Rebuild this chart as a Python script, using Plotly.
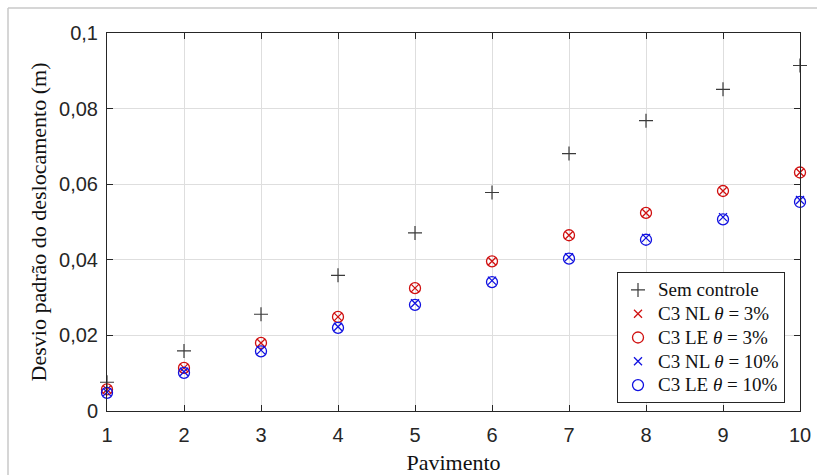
import plotly.graph_objects as go

pavimento = [1, 2, 3, 4, 5, 6, 7, 8, 9, 10]
sem_controle = [0.0076, 0.0159, 0.0256, 0.0359, 0.0471, 0.0578, 0.0681, 0.0768, 0.0851, 0.0914]
c3_nl_3 = [0.0057, 0.0114, 0.0180, 0.0249, 0.0325, 0.0396, 0.0465, 0.0524, 0.0582, 0.0631]
c3_le_3 = [0.0057, 0.0114, 0.0180, 0.0249, 0.0325, 0.0396, 0.0465, 0.0524, 0.0582, 0.0631]
c3_nl_10 = [0.0050, 0.0104, 0.0161, 0.0223, 0.0285, 0.0345, 0.0407, 0.0458, 0.0513, 0.0558]
c3_le_10 = [0.0048, 0.0101, 0.0158, 0.0220, 0.0281, 0.0341, 0.0403, 0.0453, 0.0507, 0.0553]

x_ticks = [1, 2, 3, 4, 5, 6, 7, 8, 9, 10]
y_ticks = [0, 0.02, 0.04, 0.06, 0.08, 0.1]
y_ticktext = ["0", "0,02", "0,04", "0,06", "0,08", "0,1"]

names = ["Sem controle", "C3 NL <i>θ</i> = 3%", "C3 LE <i>θ</i> = 3%",
         "C3 NL <i>θ</i> = 10%", "C3 LE <i>θ</i> = 10%"]

GRAY = "#3a3a3a"
RED = "#d01010"
BLUE = "#1010e0"


def big(t):
    return '<span style="font-size:19px">' + t + '</span>'


fig = go.Figure()
fig.add_trace(go.Scatter(x=pavimento, y=sem_controle, mode="markers", name=big(names[0]),
                         cliponaxis=False,
                         marker=dict(symbol="cross-thin", size=10, line=dict(color=GRAY, width=1.2))))
fig.add_trace(go.Scatter(x=pavimento, y=c3_nl_3, mode="markers", name=big(names[1]),
                         cliponaxis=False,
                         marker=dict(symbol="x-thin", size=8, line=dict(color=RED, width=1.3))))
fig.add_trace(go.Scatter(x=pavimento, y=c3_le_3, mode="markers", name=big(names[2]),
                         cliponaxis=False,
                         marker=dict(symbol="circle-open", size=11, color=RED, line=dict(color=RED, width=1.3))))
fig.add_trace(go.Scatter(x=pavimento, y=c3_nl_10, mode="markers", name=big(names[3]),
                         cliponaxis=False,
                         marker=dict(symbol="x-thin", size=8, line=dict(color=BLUE, width=1.3))))
fig.add_trace(go.Scatter(x=pavimento, y=c3_le_10, mode="markers", name=big(names[4]),
                         cliponaxis=False,
                         marker=dict(symbol="circle-open", size=11, color=BLUE, line=dict(color=BLUE, width=1.3))))

L, R, T, B = 107, 17, 33, 64
W, H = 817, 475
pw, ph = W - L - R, H - T - B

axis_common = dict(showline=True, linecolor="#262626", linewidth=1, mirror="ticks",
                   ticks="inside", ticklen=6, tickcolor="#262626", automargin=False,
                   showgrid=True, gridcolor="#dedede", gridwidth=1, zeroline=False,
                   tickfont=dict(family="Liberation Sans, Arial", size=20, color="#262626"))

title_font = dict(family="Liberation Serif, Times New Roman", size=22, color="#111111")

fig.update_layout(
    width=W, height=H,
    margin=dict(l=L, r=R, t=T, b=B),
    paper_bgcolor="white", plot_bgcolor="white",
    showlegend=True,
    legend=dict(x=(785 - L) / pw, y=(H - B - 403) / ph, xanchor="right", yanchor="bottom",
                bgcolor="white", bordercolor="#262626", borderwidth=1,
                font=dict(family="Liberation Serif, Times New Roman", size=16, color="#111111"),
                tracegroupgap=0, itemwidth=30),
    xaxis=dict(range=[1, 10], tickvals=x_ticks, ticktext=[str(v) for v in x_ticks],
               ticklabelstandoff=6,
               title=dict(text="Pavimento", standoff=10, font=title_font),
               **axis_common),
    yaxis=dict(range=[0, 0.1], tickvals=y_ticks, ticktext=y_ticktext,
               ticklabelstandoff=4,
               title=dict(text="Desvio padrão do deslocamento (m)", standoff=6, font=title_font),
               **axis_common),
    shapes=[
        dict(type="line", xref="paper", yref="paper",
             x0=(8 - L) / pw, x1=(8 - L) / pw, y0=(H - B - 475) / ph, y1=(H - B - 8) / ph,
             line=dict(color="#c8c8c8", width=1.5)),
        dict(type="line", xref="paper", yref="paper",
             x0=(8 - L) / pw, x1=(817 - L) / pw, y0=(H - B - 8) / ph, y1=(H - B - 8) / ph,
             line=dict(color="#c8c8c8", width=1.5)),
    ],
)

fig.write_html("out.html")
